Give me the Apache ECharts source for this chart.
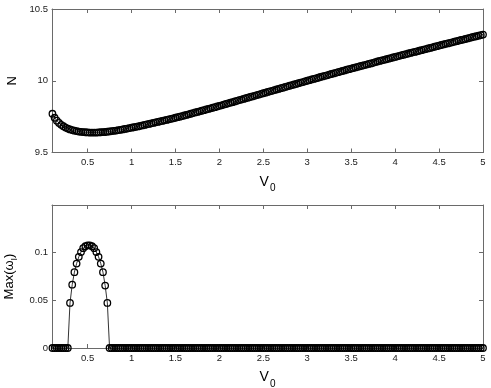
<!DOCTYPE html>
<html>
<head>
<meta charset="utf-8">
<script src="https://cdn.jsdelivr.net/npm/echarts@6/dist/echarts.min.js"></script>
<style>
html,body{margin:0;padding:0;background:#fff;}
#c{width:491px;height:388px;}
</style>
</head>
<body>
<div id="c"></div>
<script>
// V0 sample grid
const V = [
0.1,0.125,0.15,0.175,0.2,0.225,0.25,0.275,0.3,0.325,0.35,0.375,0.4,0.425,0.45,0.475,0.5,0.525,0.55,0.575,0.6,0.625,0.65,0.675,0.7,0.725,0.75,0.775,0.8,0.825,0.85,0.875,0.9,0.925,0.95,0.975,
1,1.025,1.05,1.075,1.1,1.125,1.15,1.175,1.2,1.225,1.25,1.275,1.3,1.325,1.35,1.375,1.4,1.425,1.45,1.475,1.5,1.525,1.55,1.575,1.6,1.625,1.65,1.675,1.7,1.725,1.75,1.775,1.8,1.825,1.85,1.875,1.9,1.925,1.95,1.975,
2,2.025,2.05,2.075,2.1,2.125,2.15,2.175,2.2,2.225,2.25,2.275,2.3,2.325,2.35,2.375,2.4,2.425,2.45,2.475,2.5,2.525,2.55,2.575,2.6,2.625,2.65,2.675,2.7,2.725,2.75,2.775,2.8,2.825,2.85,2.875,2.9,2.925,2.95,2.975,
3,3.025,3.05,3.075,3.1,3.125,3.15,3.175,3.2,3.225,3.25,3.275,3.3,3.325,3.35,3.375,3.4,3.425,3.45,3.475,3.5,3.525,3.55,3.575,3.6,3.625,3.65,3.675,3.7,3.725,3.75,3.775,3.8,3.825,3.85,3.875,3.9,3.925,3.95,3.975,
4,4.025,4.05,4.075,4.1,4.125,4.15,4.175,4.2,4.225,4.25,4.275,4.3,4.325,4.35,4.375,4.4,4.425,4.45,4.475,4.5,4.525,4.55,4.575,4.6,4.625,4.65,4.675,4.7,4.725,4.75,4.775,4.8,4.825,4.85,4.875,4.9,4.925,4.95,4.975,
5
];
// N values (top panel)
const N = [
9.770,9.742,9.722,9.706,9.693,9.683,9.674,9.667,9.661,9.656,9.652,9.649,9.646,9.644,9.642,9.641,9.640,9.639,9.639,9.639,9.639,9.640,9.641,9.642,9.643,9.645,9.647,9.649,9.651,9.653,9.656,9.658,9.661,9.664,9.667,9.670,
9.673,9.676,9.679,9.682,9.686,9.689,9.692,9.696,9.699,9.703,9.706,9.710,9.713,9.717,9.720,9.724,9.727,9.731,9.735,9.738,9.742,9.746,9.750,9.754,9.758,9.762,9.766,9.770,9.775,9.779,9.783,9.787,9.791,9.795,9.800,9.804,9.808,9.812,9.816,9.821,
9.825,9.829,9.834,9.838,9.843,9.847,9.851,9.856,9.860,9.865,9.869,9.873,9.878,9.882,9.887,9.891,9.895,9.900,9.904,9.909,9.913,9.917,9.922,9.926,9.930,9.935,9.939,9.943,9.948,9.952,9.957,9.961,9.965,9.970,9.974,9.978,9.983,9.987,9.991,9.996,
10.000,10.004,10.009,10.013,10.017,10.021,10.026,10.030,10.034,10.038,10.043,10.047,10.051,10.055,10.060,10.064,10.068,10.072,10.077,10.081,10.085,10.089,10.093,10.097,10.101,10.105,10.109,10.113,10.117,10.121,10.125,10.130,10.134,10.138,10.142,10.146,10.150,10.154,10.158,10.162,
10.166,10.170,10.174,10.178,10.182,10.186,10.190,10.194,10.198,10.201,10.205,10.209,10.213,10.217,10.221,10.225,10.229,10.233,10.237,10.241,10.245,10.249,10.253,10.257,10.260,10.264,10.268,10.272,10.276,10.280,10.284,10.287,10.291,10.295,10.299,10.303,10.307,10.310,10.314,10.318,
10.322
];
// Max(omega_I) values (bottom panel)
const W = [
0,0,0,0,0,0,0,0,0.047,0.066,0.079,0.088,0.095,0.100,0.104,0.106,0.107,0.107,0.106,0.104,0.100,0.095,0.088,0.079,0.065,0.047,0,0,0,0,0,0,0,0,0,0,
0,0,0,0,0,0,0,0,0,0,0,0,0,0,0,0,0,0,0,0,0,0,0,0,0,0,0,0,0,0,0,0,0,0,0,0,0,0,0,0,
0,0,0,0,0,0,0,0,0,0,0,0,0,0,0,0,0,0,0,0,0,0,0,0,0,0,0,0,0,0,0,0,0,0,0,0,0,0,0,0,
0,0,0,0,0,0,0,0,0,0,0,0,0,0,0,0,0,0,0,0,0,0,0,0,0,0,0,0,0,0,0,0,0,0,0,0,0,0,0,0,
0,0,0,0,0,0,0,0,0,0,0,0,0,0,0,0,0,0,0,0,0,0,0,0,0,0,0,0,0,0,0,0,0,0,0,0,0,0,0,0,
0
];
const topYTicks = ['9.5','10','10.5'];
const botYTicks = ['0','0.05','0.1'];

const FONT = 'Liberation Sans, Arial, Helvetica, sans-serif';
const AX = '#6a6a6a';
const XMIN = 0.095, XMAX = 5;

function xAx(grid, pos, labels) {
  const a = {
    type: 'value', gridIndex: grid, position: pos, min: XMIN, max: XMAX, splitNumber: 10,
    axisLine: {show: true, onZero: false, lineStyle: {color: AX, width: 1}},
    axisTick: {show: true, inside: true, length: 4, lineStyle: {color: AX}},
    axisLabel: {show: labels, showMinLabel: false, margin: 5, fontSize: 9.5, color: '#1a1a1a', fontFamily: FONT},
    splitLine: {show: false}
  };
  if (labels) {
    a.name = '{v|V}{s|0}';
    a.nameLocation = 'middle';
    a.nameGap = 18;
    a.nameTextStyle = {
      rich: {
        v: {fontSize: 14, fontFamily: FONT, color: '#000'},
        s: {fontSize: 10, fontFamily: FONT, color: '#000', padding: [13, 0, 0, 1]}
      }
    };
  }
  return a;
}
function yAx(grid, pos, labels, min, max, name, rich) {
  const a = {
    type: 'value', gridIndex: grid, position: pos, min: min, max: max, interval: 0.05,
    axisLine: {show: true, onZero: false, lineStyle: {color: AX, width: 1}},
    axisTick: {show: true, inside: true, length: 4, lineStyle: {color: AX}},
    axisLabel: {show: labels, showMaxLabel: grid === 0, margin: 4, fontSize: 9.5, color: '#1a1a1a', fontFamily: FONT},
    splitLine: {show: false}
  };
  if (grid === 0) a.interval = 0.5;
  if (labels) {
    a.name = name;
    a.nameLocation = 'middle';
    a.nameRotate = 90;
    a.nameGap = 33;
    a.nameTextStyle = {rich: rich};
  }
  return a;
}

const chart = echarts.init(document.getElementById('c'), null, {renderer: 'canvas'});
chart.setOption({
  animation: false,
  backgroundColor: '#fff',
  grid: [
    {left: 52, right: 8, top: 9, height: 143.5, containLabel: false, outerBoundsMode: 'none'},
    {left: 52, right: 8, top: 205, height: 143, containLabel: false, outerBoundsMode: 'none'}
  ],
  xAxis: [xAx(0, 'bottom', true), xAx(0, 'top', false), xAx(1, 'bottom', true), xAx(1, 'top', false)],
  yAxis: [
    yAx(0, 'left', true, 9.5, 10.5, '{a|N}', {a: {fontSize: 13, fontFamily: FONT, color: '#000'}}),
    yAx(0, 'right', false, 9.5, 10.5),
    yAx(1, 'left', true, 0, 0.149, '{a|Max(ω}{s|I}{a|)}', {
      a: {fontSize: 13, fontFamily: FONT, color: '#000'},
      s: {fontSize: 9, fontFamily: FONT, color: '#000', padding: [10, 0, 0, 0]}
    }),
    yAx(1, 'right', false, 0, 0.149)
  ],
  series: [
    {
      type: 'line', xAxisIndex: 0, yAxisIndex: 0,
      data: V.map((v, i) => [v, N[i]]),
      symbol: 'circle', symbolSize: 6.5,
      itemStyle: {color: 'rgba(0,0,0,0)', borderColor: '#000', borderWidth: 1.3},
      lineStyle: {color: '#000', width: 0.8},
      clip: false
    },
    {
      type: 'line', xAxisIndex: 2, yAxisIndex: 2,
      data: V.map((v, i) => [v, W[i]]),
      symbol: 'circle', symbolSize: 6.5,
      itemStyle: {color: 'rgba(0,0,0,0)', borderColor: '#000', borderWidth: 1.3},
      lineStyle: {color: '#000', width: 0.8},
      clip: false
    }
  ]
});
</script>
</body>
</html>
